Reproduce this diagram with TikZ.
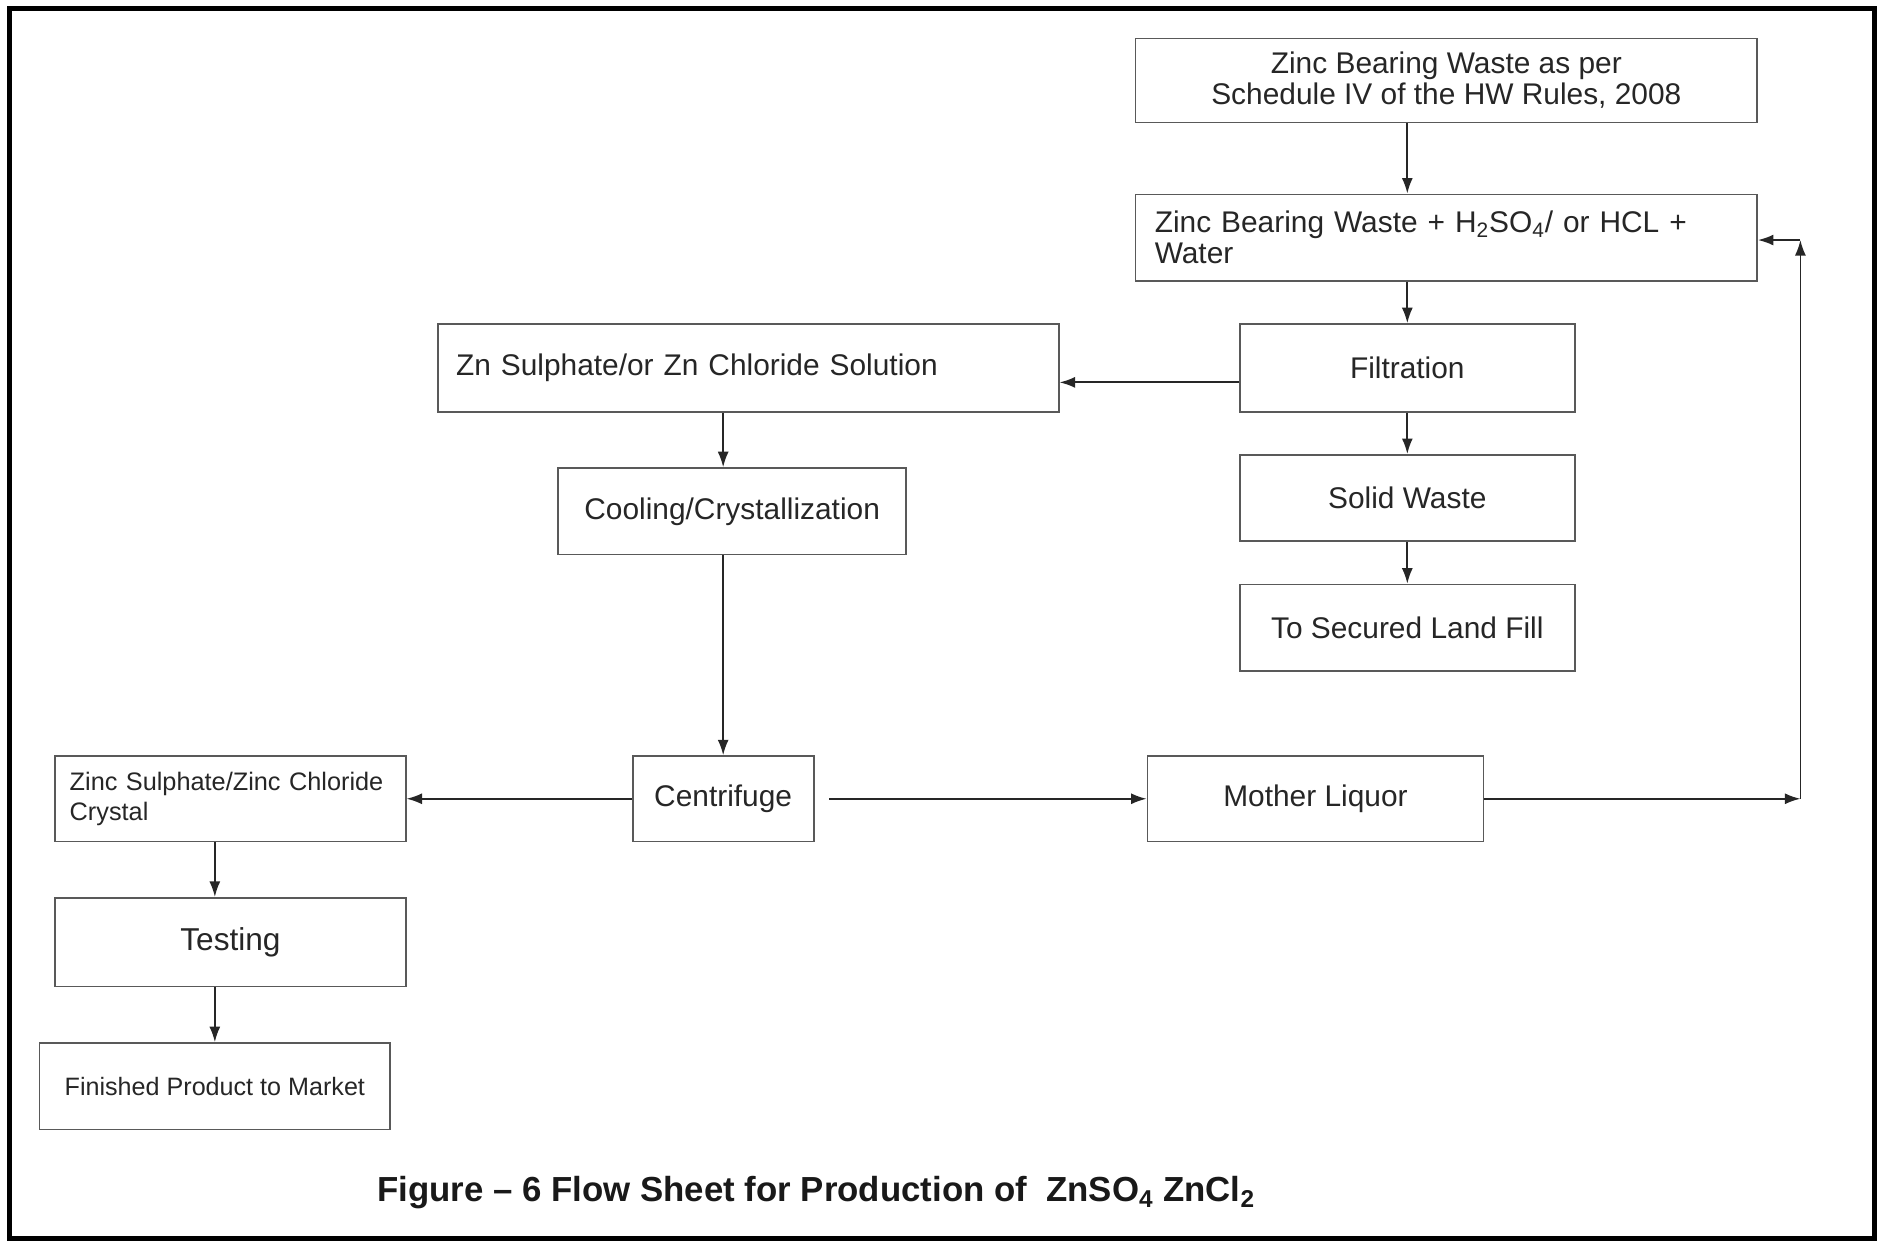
\documentclass[tikz,border=0pt]{standalone}
\usepackage{fontspec}
\setmainfont{Liberation Sans}
\usetikzlibrary{arrows.meta}

\tikzset{
  box/.style={draw=black!65, line width=1pt, rectangle, align=center,
    minimum height=1.728cm, inner sep=0pt, text=black!85,
    font=\fontsize{17}{17.8}\selectfont},
  arr/.style={draw=black!85, line width=1pt, -{Latex[length=3.1mm,width=2.2mm]}},
}

\begin{document}
\begin{tikzpicture}[x=0.024cm,y=-0.024cm]
      \useasboundingbox (0,0) rectangle (1568,1035);
      \draw[line width=3pt] (8,7) rectangle (1562,1032);
      \draw
        (1205,67) node[box, minimum width=12.43cm, minimum height=1.68cm] (waste)
          {Zinc Bearing Waste as per\\Schedule IV of the HW Rules, 2008}
        (1205,198) node[box, align=left, inner xsep=0.384cm, text width=11.66cm] (mix)
          {Zinc Bearing Waste + H\textsubscript{2}SO\textsubscript{4}/ or HCL +\\Water}
        (1172.5,306.5) node[box, minimum width=6.7cm, minimum height=1.752cm] (filt) {Filtration}
        (623.5,306.5) node[box, align=left, inner xsep=0.36cm, text width=11.69cm, minimum height=1.752cm] (sol)
          {Zn Sulphate/or Zn Chloride Solution}
        (610,426) node[box, minimum width=6.96cm] (cool) {Cooling/Crystallization}
        (1172.5,415) node[box, minimum width=6.7cm] (solid) {Solid Waste}
        (1172.5,523) node[box, minimum width=6.7cm] (fill) {To Secured Land Fill}
        (602.5,665.5) node[box, minimum width=3.62cm, minimum height=1.704cm] (cent) {Centrifuge}
        (1096,665.5) node[box, minimum width=6.72cm, minimum height=1.704cm] (mother) {Mother Liquor}
        (192,665.5) node[box, align=left, inner xsep=0.288cm, text width=6.43cm, minimum height=1.704cm,
          font=\fontsize{14.4}{17}\selectfont] (cryst) {Zinc Sulphate/Zinc Chloride\\Crystal}
        (192,785) node[box, minimum width=7.01cm, minimum height=1.776cm,
          font=\fontsize{18}{20.4}\selectfont] (test) {Testing}
        (179,905) node[box, minimum width=7.01cm,
          font=\fontsize{14.3}{16.8}\selectfont] (fin) {Finished Product to Market}
        (680,994) node[font=\fontsize{19.8}{23}\selectfont\bfseries, text=black!90] (cap)
          {Figure – 6 Flow Sheet for Production of\ \ ZnSO\textsubscript{4} ZnCl\textsubscript{2}};
      \coordinate (ret) at (1500,665.5);
      \coordinate (rettop) at (1500,200);
      \begin{scope}[arr]
        \draw (waste.south -| filt.north) to (mix.north -| filt.north);
        \draw (mix.south -| filt.north) to (filt.north);
        \draw ([yshift=-2.9mm]filt.west) to ([yshift=-2.9mm]sol.east);
        \draw (filt) to (solid);
        \draw (solid) to (fill);
        \draw (sol.south -| cent.north) to (cool.north -| cent.north);
        \draw (cool.south -| cent.north) to (cent.north);
        \draw (cent) to (cryst);
        \draw ([xshift=2.9mm]cent.east) to (mother.west);
        \draw (mother) to (ret);
        \draw (ret) to (rettop);
        \draw (rettop) to (rettop -| mix.east);
        \draw (cryst.south -| fin.north) to (test.north -| fin.north);
        \draw (test.south -| fin.north) to (fin.north);
      \end{scope}
    \end{tikzpicture}
\end{document}
